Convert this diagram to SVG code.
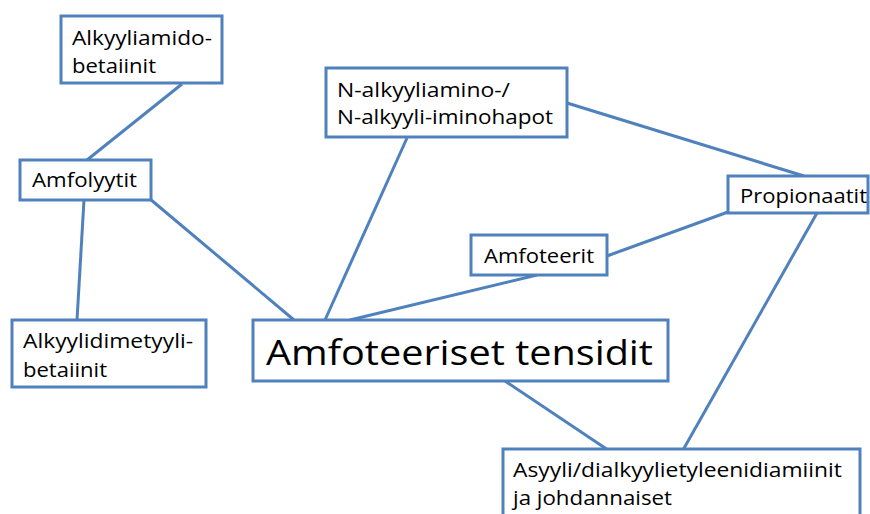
<svg xmlns="http://www.w3.org/2000/svg" width="870" height="514" viewBox="0 0 870 514">
<style>
.box{fill:#fff;stroke:#4F81BD;stroke-width:3}
.ln{stroke:#4F81BD;stroke-width:3;fill:none}
text{font-family:"Open Sans","Noto Sans",sans-serif;font-size:20px;fill:#000}
.big{font-size:35px}
</style>
<rect width="870" height="514" fill="#fff"/>
<g id="connectors">
<line class="ln" x1="182" y1="84" x2="87" y2="160"/>
<line class="ln" x1="84" y1="200" x2="77" y2="320"/>
<line class="ln" x1="150" y1="199" x2="294" y2="320"/>
<line class="ln" x1="407" y1="138" x2="325" y2="320"/>
<line class="ln" x1="567" y1="103" x2="804" y2="176"/>
<line class="ln" x1="728" y1="212" x2="607" y2="256"/>
<line class="ln" x1="537" y1="275" x2="350" y2="320"/>
<line class="ln" x1="817" y1="213" x2="683" y2="450"/>
<line class="ln" x1="505" y1="381" x2="608" y2="450"/>
</g>
<g id="alkyyliamido">
<rect class="box" x="61" y="16" width="161" height="67"/>
<text x="72" y="45" textLength="140" lengthAdjust="spacingAndGlyphs">Alkyyliamido-</text>
<text x="72" y="73" textLength="84" lengthAdjust="spacingAndGlyphs">betaiinit</text>
</g>
<g id="amfolyytit">
<rect class="box" x="20" y="160" width="131" height="40"/>
<text x="32" y="187" textLength="105" lengthAdjust="spacingAndGlyphs">Amfolyytit</text>
</g>
<g id="alkyylidimetyyli">
<rect class="box" x="12" y="320" width="194" height="67"/>
<text x="23" y="348" textLength="170" lengthAdjust="spacingAndGlyphs">Alkyylidimetyyli-</text>
<text x="23" y="377" textLength="84" lengthAdjust="spacingAndGlyphs">betaiinit</text>
</g>
<g id="nalkyyli">
<rect class="box" x="326" y="68" width="241" height="69"/>
<text x="337" y="97" textLength="173" lengthAdjust="spacingAndGlyphs">N-alkyyliamino-/</text>
<text x="337" y="124" textLength="216" lengthAdjust="spacingAndGlyphs">N-alkyyli-iminohapot</text>
</g>
<g id="propionaatit">
<rect class="box" x="728" y="176" width="140" height="37"/>
<text x="740" y="203" textLength="127" lengthAdjust="spacingAndGlyphs">Propionaatit</text>
</g>
<g id="amfoteerit">
<rect class="box" x="471" y="235" width="136" height="40"/>
<text x="484" y="263" textLength="110" lengthAdjust="spacingAndGlyphs">Amfoteerit</text>
</g>
<g id="main">
<rect class="box" x="253" y="320" width="415" height="61"/>
<text class="big" x="266" y="365" textLength="387" lengthAdjust="spacingAndGlyphs">Amfoteeriset tensidit</text>
</g>
<g id="asyyli">
<rect class="box" x="503" y="449" width="357" height="80"/>
<text x="513" y="477" textLength="329" lengthAdjust="spacingAndGlyphs">Asyyli/dialkyylietyleenidiamiinit</text>
<text x="513" y="505" textLength="159" lengthAdjust="spacingAndGlyphs">ja johdannaiset</text>
</g>
</svg>
